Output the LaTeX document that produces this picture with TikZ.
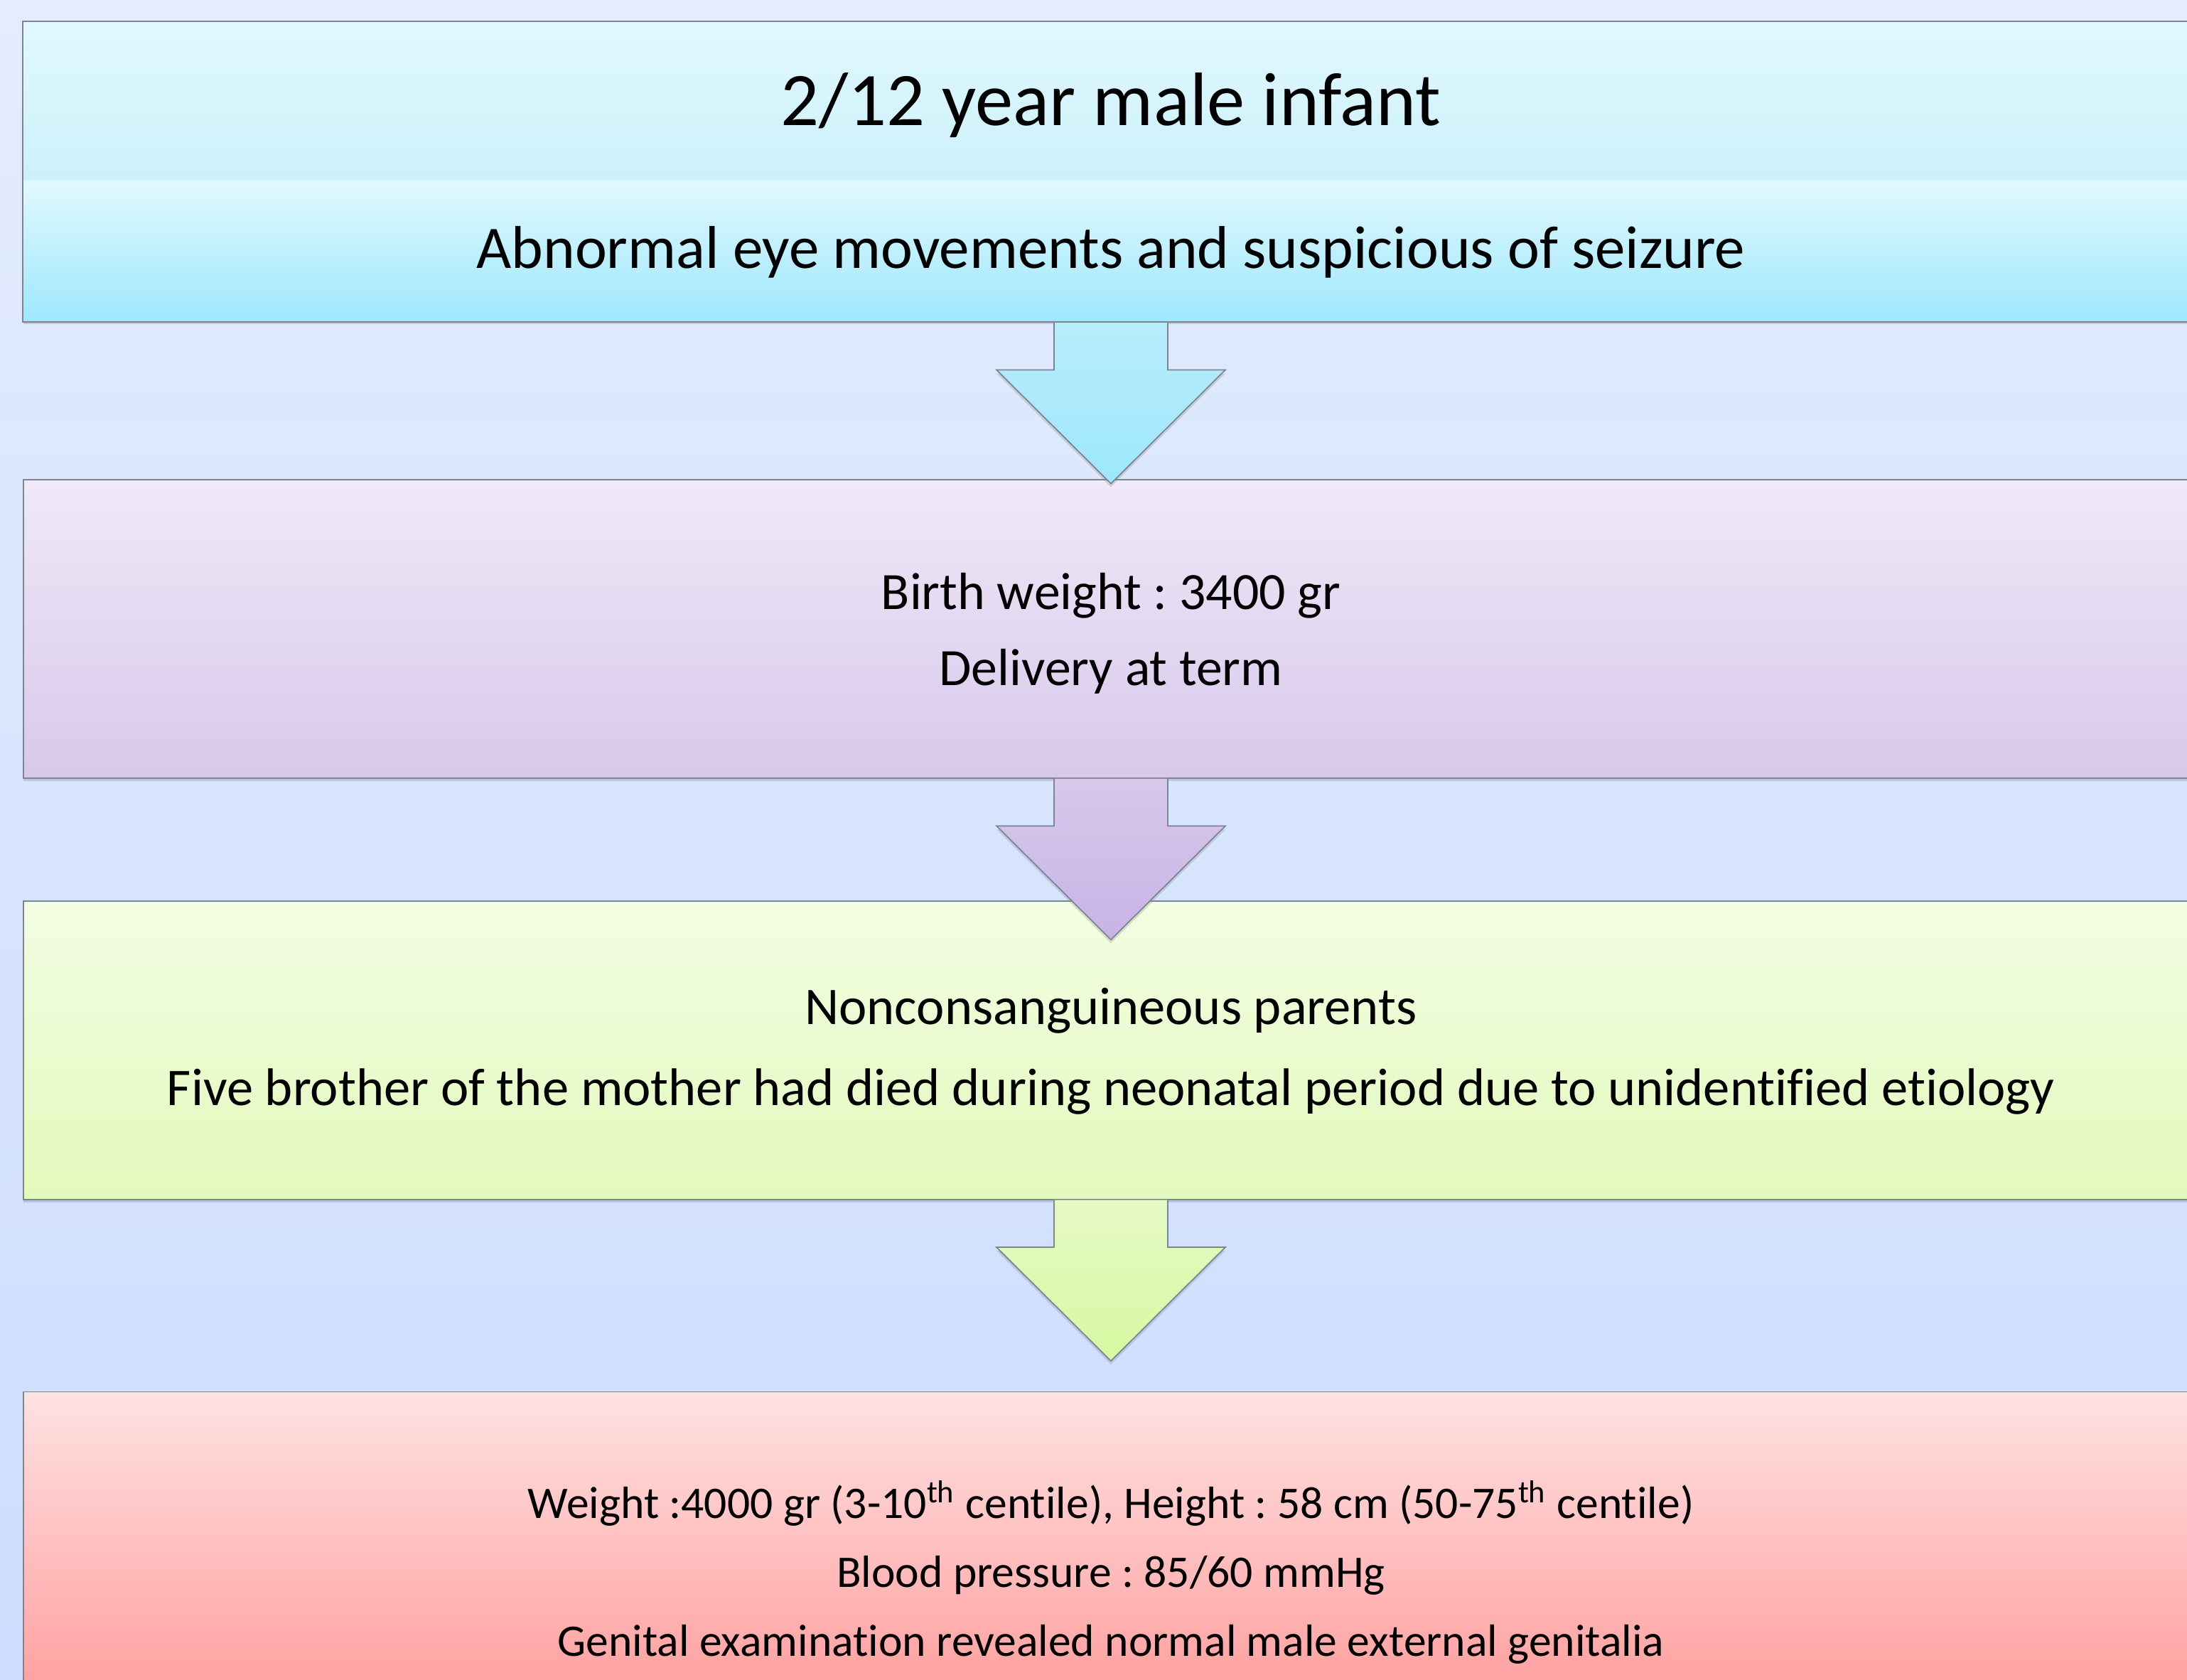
\documentclass[tikz,border=0pt]{standalone}
\usepackage{fontspec}
\setmainfont{Carlito}[Ligatures=NoCommon]
\frenchspacing
\usepackage{tikz}
\usetikzlibrary{positioning,fit,shadows}

\definecolor{bgtop}{HTML}{E4ECFD}
\definecolor{bgbottom}{HTML}{CCDDFF}
\definecolor{edgegray}{HTML}{7A8793}
\definecolor{cyanlight}{HTML}{E1F8FE}
\definecolor{cyanmid}{HTML}{CCF1FB}
\definecolor{cyandark}{HTML}{9EE8FD}
\definecolor{cyanarrowtop}{HTML}{B8EDFC}
\definecolor{cyanarrowbot}{HTML}{9EE7FC}
\definecolor{lilaclight}{HTML}{EFE9F8}
\definecolor{lilacdark}{HTML}{D8C8EB}
\definecolor{lilacarrowbot}{HTML}{C8B3E6}
\definecolor{limelight}{HTML}{F3FDE3}
\definecolor{limedark}{HTML}{E2F9BC}
\definecolor{limearrowtop}{HTML}{E6F9C5}
\definecolor{limearrowbot}{HTML}{D6F9A0}
\definecolor{pinklight}{HTML}{FFE2E2}
\definecolor{pinkdark}{HTML}{FFA0A0}

\begin{document}
\begin{tikzpicture}[node distance=2cm,
    band/.style={rectangle, minimum width=30.6cm, inner sep=0pt},
    panel/.style={band, draw=edgegray, line width=0.5pt, minimum height=4.2cm,
        drop shadow={shadow xshift=0pt, shadow yshift=-0.04cm, opacity=0.3}},
    blockarrow/.style={draw=edgegray, line width=0.5pt, line join=miter,
        drop shadow={shadow xshift=0pt, shadow yshift=-0.05cm, opacity=0.25}},
    txt/.style={anchor=base, align=center, inner sep=0pt}]
    \useasboundingbox (0,0) rectangle (30.77,-23.63);
    \clip (0,0) rectangle (30.77,-23.63);
    \fill[top color=bgtop, bottom color=bgbottom] (0,0) rectangle (30.77,-23.63);

    \node (title) [band, minimum height=2.22cm, top color=cyanlight, bottom color=cyanmid] at (15.63,-1.42) {};
    \node (body) [band, minimum height=1.98cm, top color=cyanlight, bottom color=cyandark, below=0cm of title,
        drop shadow={shadow xshift=0pt, shadow yshift=-0.04cm, opacity=0.3}] {};
    \node (box1) [fit=(title)(body), draw=edgegray, line width=0.5pt, inner sep=0pt] {};
    \node (birth) [panel, below=2.2cm of box1, top color=lilaclight, bottom color=lilacdark] {};
    \node (family) [panel, below=1.71cm of birth, top color=limelight, bottom color=limedark] {};
    \node (exam) [panel, below=2.69cm of family, top color=pinklight, bottom color=pinkdark] {};

    \node (titletext) [txt, font=\fontsize{30.3}{36}\selectfont] at ([yshift=0.77cm]title.south) {2/12 year male infant};
    \node (complaint) [txt, font=\fontsize{24.2}{28}\selectfont] at ([yshift=0.76cm]body.south) {Abnormal eye movements and suspicious of seizure};
    \node (birthtext) [txt, font=\fontsize{21}{30.4}\selectfont] at ([yshift=-2.90cm]birth.north) {Birth weight : 3400 gr\\Delivery at term};
    \node (familytext) [txt, font=\fontsize{21.2}{32.4}\selectfont] at ([yshift=-2.89cm]family.north) {Nonconsanguineous parents\\Five brother of the mother had died during neonatal period due to unidentified etiology};
    \node (examtext) [txt, font=\fontsize{18.1}{27.6}\selectfont] at ([yshift=-3.73cm]exam.north) {Weight :4000 gr (3-10\textsuperscript{th} centile), Height : 58 cm (50-75\textsuperscript{th} centile)\\Blood pressure : 85/60 mmHg\\Genital examination revealed normal male external genitalia};

    \draw[blockarrow, top color=cyanarrowtop, bottom color=cyanarrowbot] ([xshift=-0.8cm]box1.south) -- ++(0,-0.665) -- ++(-0.81,0) -- ++(1.61,-1.6) -- ++(1.61,1.6) -- ++(-0.81,0) -- ++(0,0.665);
    \draw[blockarrow, top color=lilacdark, bottom color=lilacarrowbot] ([xshift=-0.8cm]birth.south) -- ++(0,-0.665) -- ++(-0.81,0) -- ++(1.61,-1.6) -- ++(1.61,1.6) -- ++(-0.81,0) -- ++(0,0.665);
    \draw[blockarrow, top color=limearrowtop, bottom color=limearrowbot] ([xshift=-0.8cm]family.south) -- ++(0,-0.665) -- ++(-0.81,0) -- ++(1.61,-1.6) -- ++(1.61,1.6) -- ++(-0.81,0) -- ++(0,0.665);
\end{tikzpicture}
\end{document}
